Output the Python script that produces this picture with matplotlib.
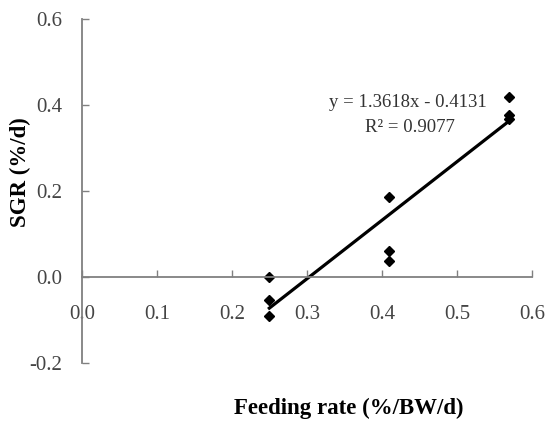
import numpy as np
import matplotlib.pyplot as plt

plt.rcParams['font.family'] = ['Liberation Serif', 'DejaVu Serif']

feed = [0.25, 0.25, 0.25, 0.41, 0.41, 0.41, 0.57, 0.57, 0.57]
sgr = [0.0, -0.053, -0.09, 0.186, 0.06, 0.037, 0.419, 0.377, 0.367]
slope = 1.3618
intercept = -0.4131
r2 = 0.9077

fig = plt.figure(figsize=(5.45, 4.21), dpi=100)
ax = fig.add_axes([0.150, 0.138, 0.826, 0.817])

ax.plot(feed, sgr, 'D', color='black', markersize=5.5, linestyle='none')
xf = np.array([min(feed), max(feed)])
ax.plot(xf, slope * xf + intercept, color='black', linewidth=2.3)

ax.text(0.33, 0.405, 'y = 1.3618x - 0.4131', fontsize=13.5, color='#333333', ha='left', va='center')
ax.text(0.377, 0.348, 'R² = 0.9077', fontsize=13.5, color='#333333', ha='left', va='center')

ax.set_xlim(0, 0.6)
ax.set_ylim(-0.2, 0.6)
ax.set_xticks([0.0, 0.1, 0.2, 0.3, 0.4, 0.5, 0.6])
ax.set_yticks([-0.2, 0.0, 0.2, 0.4, 0.6])
ax.set_xticklabels(['0.0', '0.1', '0.2', '0.3', '0.4', '0.5', '0.6'])
ax.set_yticklabels(['-0.2', '0.0', '0.2', '0.4', '0.6'])

ax.spines['top'].set_visible(False)
ax.spines['right'].set_visible(False)
ax.spines['bottom'].set_position(('data', 0))
for s in ['left', 'bottom']:
    ax.spines[s].set_color('#808080')
    ax.spines[s].set_linewidth(1.3)

ax.tick_params(axis='both', direction='in', length=5, width=1, color='#808080',
               labelsize=15, labelcolor='#444444')
ax.tick_params(axis='x', pad=20)
ax.tick_params(axis='y', pad=14)

fig.text(0.038, 0.591, 'SGR (%/d)', fontsize=16.5, fontweight='bold', rotation=90,
         ha='center', va='center')
fig.text(0.64, 0.03, 'Feeding rate (%/BW/d)', fontsize=16.5, fontweight='bold',
         ha='center', va='center')

fig.savefig('out.png', dpi=100)
